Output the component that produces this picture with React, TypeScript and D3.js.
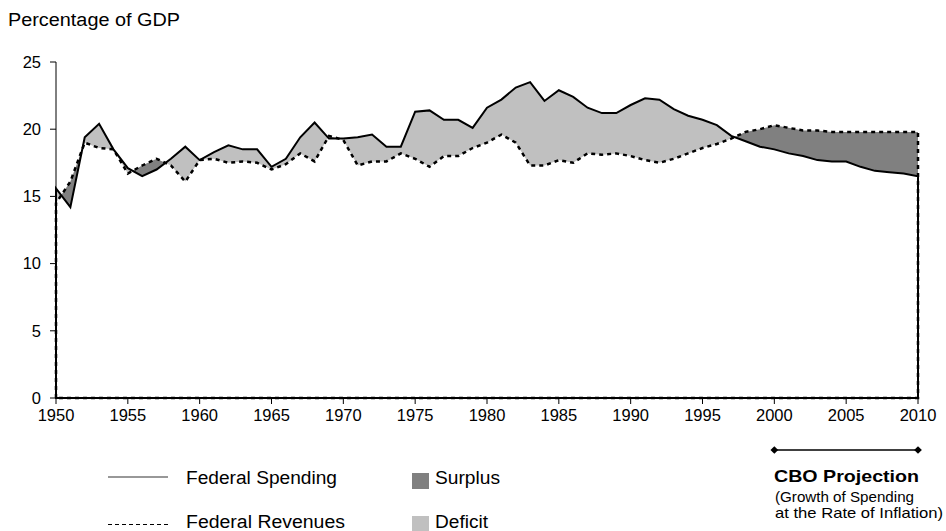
import React from 'react';
import * as d3 from 'd3';

const years: number[] = d3.range(1950, 2011);

const spending: number[] = [
  15.6, 14.2, 19.4, 20.4, 18.5, 17.1, 16.5, 17.0, 17.8, 18.7,
  17.7, 18.3, 18.8, 18.5, 18.5, 17.2, 17.8, 19.4, 20.5, 19.3,
  19.3, 19.4, 19.6, 18.7, 18.7, 21.3, 21.4, 20.7, 20.7, 20.1,
  21.6, 22.2, 23.1, 23.5, 22.1, 22.9, 22.4, 21.6, 21.2, 21.2,
  21.8, 22.3, 22.2, 21.5, 21.0, 20.7, 20.3, 19.5, 19.1, 18.7,
  18.5, 18.2, 18.0, 17.7, 17.6, 17.6, 17.2, 16.9, 16.8, 16.7,
  16.5,
];

const revenues: number[] = [
  14.5, 16.1, 19.0, 18.6, 18.5, 16.7, 17.3, 17.8, 17.3, 16.1,
  17.7, 17.8, 17.5, 17.6, 17.5, 17.0, 17.4, 18.2, 17.6, 19.5,
  19.2, 17.3, 17.6, 17.6, 18.2, 17.8, 17.2, 18.0, 18.0, 18.6,
  19.0, 19.6, 19.0, 17.3, 17.3, 17.7, 17.5, 18.2, 18.1, 18.2,
  18.0, 17.7, 17.5, 17.8, 18.2, 18.6, 18.9, 19.3, 19.8, 20.0,
  20.3, 20.1, 19.9, 19.9, 19.8, 19.8, 19.8, 19.8, 19.8, 19.8,
  19.8,
];

const yTicks: number[] = [0, 5, 10, 15, 20, 25];
const xTicks: number[] = [1950, 1955, 1960, 1965, 1970, 1975, 1980, 1985, 1990, 1995, 2000, 2005, 2010];
const projection: number[] = [2000, 2010];

const FONT = '"Liberation Sans", Arial, sans-serif';

type Row = { yr: number; s: number; r: number };

export default function App() {
  const x = d3.scaleLinear().domain([1950, 2010]).range([56, 918]);
  const y = d3.scaleLinear().domain([0, 25]).range([398, 62]);
  const data: Row[] = years.map((yr, i) => ({ yr, s: spending[i], r: revenues[i] }));
  const top = y(25);
  const bottom = y(0);

  const aboveRev = d3.area<Row>().x(d => x(d.yr)).y0(d => y(d.r)).y1(top)(data) || '';
  const aboveSpend = d3.area<Row>().x(d => x(d.yr)).y0(d => y(d.s)).y1(top)(data) || '';
  const belowSpend = d3.area<Row>().x(d => x(d.yr)).y0(bottom).y1(d => y(d.s))(data) || '';
  const belowRev = d3.area<Row>().x(d => x(d.yr)).y0(bottom).y1(d => y(d.r))(data) || '';

  const outline = (key: 's' | 'r') => {
    const pts: [number, number][] = [
      [x(years[0]), y(0)],
      ...data.map(d => [x(d.yr), y(d[key])] as [number, number]),
      [x(years[years.length - 1]), y(0)],
    ];
    return (d3.line()(pts) || '') + 'Z';
  };

  const diamond = d3.symbol().type(d3.symbolSquare).size(30)() || '';

  return (
    <svg width={946} height={531} style={{ position: 'absolute', left: 0, top: 0, display: 'block', background: '#fff' }} fontFamily={FONT}>
      <defs>
        <clipPath id="clipBelowSpend"><path d={belowSpend} /></clipPath>
        <clipPath id="clipBelowRev"><path d={belowRev} /></clipPath>
      </defs>

      <text x={8} y={26} fontSize={18} textLength={172} lengthAdjust="spacingAndGlyphs" fill="#000">Percentage of GDP</text>

      {/* fills */}
      <path d={aboveRev} fill="#C0C0C0" clipPath="url(#clipBelowSpend)" />
      <path d={aboveSpend} fill="#808080" clipPath="url(#clipBelowRev)" />

      {/* axes */}
      <line x1={x(1950)} x2={x(1950)} y1={y(0)} y2={y(25)} stroke="#000" strokeWidth={1} />
      <line x1={x(1950)} x2={x(2010)} y1={y(0)} y2={y(0)} stroke="#000" strokeWidth={1} />
      {yTicks.map(t => (
        <g key={'y' + t}>
          <line x1={x(1950) - 6} x2={x(1950)} y1={y(t)} y2={y(t)} stroke="#000" strokeWidth={1} />
          <text x={41} y={y(t)} dy="0.35em" textAnchor="end" fontSize={16.5} fill="#000">{t}</text>
        </g>
      ))}
      {xTicks.map(t => (
        <g key={'x' + t}>
          <line x1={x(t)} x2={x(t)} y1={y(0)} y2={y(0) + 6} stroke="#000" strokeWidth={1} />
          <text x={x(t)} y={421} textAnchor="middle" fontSize={16.5} fill="#000">{t}</text>
        </g>
      ))}

      {/* series outlines */}
      <path d={outline('s')} fill="none" stroke="#000" strokeWidth={2} strokeLinejoin="miter" />
      <path d={outline('r')} fill="none" stroke="#000" strokeWidth={2.5} strokeDasharray="4,4" />

      {/* legend */}
      <line x1={108} x2={168} y1={477} y2={477} stroke="#333" strokeWidth={1.2} />
      <text x={186} y={484} fontSize={18} textLength={151} lengthAdjust="spacingAndGlyphs">Federal Spending</text>
      <line x1={108} x2={168} y1={524.5} y2={524.5} stroke="#000" strokeWidth={1} strokeDasharray="4,3" />
      <text x={186} y={528} fontSize={18} textLength={159} lengthAdjust="spacingAndGlyphs">Federal Revenues</text>
      <rect x={412} y={473} width={17} height={16} fill="#808080" />
      <text x={435} y={484} fontSize={18} textLength={65} lengthAdjust="spacingAndGlyphs">Surplus</text>
      <rect x={412} y={516} width={17} height={15} fill="#C0C0C0" />
      <text x={435} y={528} fontSize={18} textLength={53} lengthAdjust="spacingAndGlyphs">Deficit</text>

      {/* CBO projection marker */}
      <line x1={x(projection[0])} x2={x(projection[1])} y1={450} y2={450} stroke="#000" strokeWidth={1.5} />
      {projection.map(p => (
        <path key={'d' + p} d={diamond} transform={`translate(${x(p)},450) rotate(45)`} fill="#000" />
      ))}
      <text x={774} y={482} fontSize={17} fontWeight="bold" textLength={145} lengthAdjust="spacingAndGlyphs">CBO Projection</text>
      <text x={775} y={502} fontSize={15} textLength={139} lengthAdjust="spacingAndGlyphs">(Growth of Spending</text>
      <text x={775} y={518} fontSize={15} textLength={168} lengthAdjust="spacingAndGlyphs">at the Rate of Inflation)</text>
    </svg>
  );
}
